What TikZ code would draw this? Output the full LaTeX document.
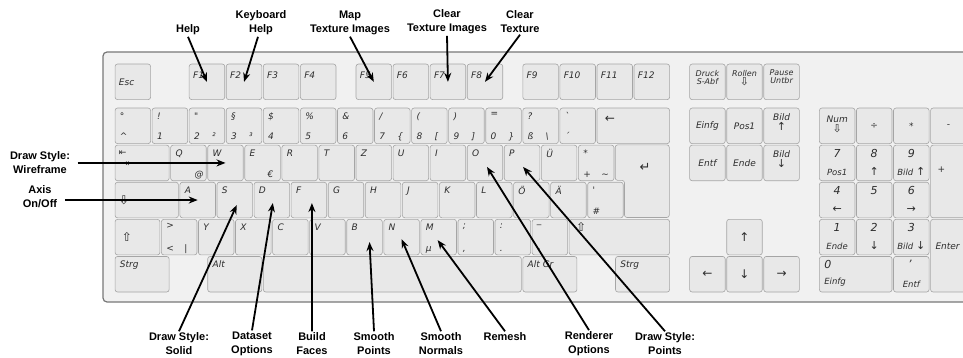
\documentclass[tikz,border=0pt]{standalone}
\usepackage{fontspec}
\usepackage{tikz}
\usetikzlibrary{arrows.meta,calc}
\newfontfamily\keyfont{DejaVu Sans}
\newfontfamily\notefont{Liberation Sans}
\definecolor{clrBody}{RGB}{241,241,241}
\definecolor{clrRim}{RGB}{120,120,120}
\definecolor{clrKey}{RGB}{232,232,232}
\definecolor{clrKeyRim}{RGB}{165,165,165}
\definecolor{clrInk}{RGB}{45,45,45}
\newcommand{\ku}{37.07}
\newcommand{\up}[1]{{\upshape\fontsize{11}{11}\selectfont #1}}
\tikzset{
  body/.style={rounded corners=4pt,fill=clrBody,draw=clrRim,line width=1.2pt},
  keycap/.style={rectangle,rounded corners=2.5pt,draw=clrKeyRim,fill=clrKey,
    line width=0.6pt,inner sep=0pt,anchor=north west},
  keylbl/.style={font=\keyfont\itshape\fontsize{9}{10}\selectfont,text=clrInk,inner sep=0pt},
  ktl/.style={keylbl,anchor=north west,xshift=5pt,yshift=-4.5pt},
  kbl/.style={keylbl,anchor=base west,xshift=5pt,yshift=4pt},
  kbr/.style={keylbl,anchor=base west,xshift=23pt,yshift=4pt},
  kfn/.style={keylbl,anchor=north west,xshift=4pt,yshift=-8pt},
  kctr/.style={keylbl,align=center},
  ksym/.style={keylbl,font=\keyfont\fontsize{12}{12}\selectfont},
  ktab/.style={keylbl,anchor=west,font=\keyfont\fontsize{9}{9}\selectfont},
  kdig/.style={keylbl,anchor=north,font=\keyfont\itshape\fontsize{11}{11}\selectfont},
  ksmall/.style={keylbl,anchor=south,font=\keyfont\itshape\fontsize{8.5}{9}\selectfont},
  note/.style={font=\notefont\bfseries\fontsize{11}{14}\selectfont,align=center,inner sep=1.5pt},
  arrow/.style={-{Stealth[length=9pt,width=7pt]},line width=1.8pt,color=black}
}
\newcommand{\keyat}[5]{%
  \node[keycap,minimum width={#4*\ku-1.5},minimum height={#5*\ku-1.5}]
    (#1) at ({114+#2*\ku+0.75},{#3+0.75}) {};}
\newcommand{\keyone}[4]{\keyat{#1}{#2}{#3}{1}{1}%
  \node[ktl] (#1-t) at (#1.north west) {#4};}
\newcommand{\keytwo}[5]{\keyone{#1}{#2}{#3}{#4}%
  \node[kbl] (#1-b) at (#1.south west) {#5};}
\newcommand{\keythree}[6]{\keytwo{#1}{#2}{#3}{#4}{#5}%
  \node[kbr] (#1-r) at (#1.south west) {#6};}
\newcommand{\fkey}[3]{\keyat{#1}{#2}{63}{1}{1}%
  \node[kfn] (#1-t) at (#1.north west) {#3};}
\newcommand{\midkey}[4]{\keyat{#1}{#2}{#3}{1}{1}%
  \node[kctr] (#1-t) at (#1.center) {#4};}
\newcommand{\padkey}[5]{\keyat{#1}{#2}{#3}{1}{1}%
  \node[kdig] (#1-t) at ([yshift=-4pt]#1.north) {#4};%
  \node[ksmall] (#1-b) at ([yshift=5pt]#1.south) {#5};}

\begin{document}
\begin{tikzpicture}[x=1pt,y=-1pt]
  \useasboundingbox (0,0) rectangle (963,358);
  \fill[white] (0,0) rectangle (963,358);
  \clip (0,0) rectangle (963,358);

  % keyboard case
  \draw[body] (103,52) rectangle (1010,302);

  % function row
  \keyat{kEsc}{0}{63}{1}{1}
  \node[keylbl,anchor=west,xshift=4pt] (kEsc-t) at (kEsc.west) {Esc};
  \fkey{kF1}{2}{F1}
  \fkey{kF2}{3}{F2}
  \fkey{kF3}{4}{F3}
  \fkey{kF4}{5}{F4}
  \fkey{kF5}{6.5}{F5}
  \fkey{kF6}{7.5}{F6}
  \fkey{kF7}{8.5}{F7}
  \fkey{kF8}{9.5}{F8}
  \fkey{kF9}{11}{F9}
  \fkey{kF10}{12}{F10}
  \fkey{kF11}{13}{F11}
  \fkey{kF12}{14}{F12}

  \keyat{kPrint}{15.5}{63}{1}{1}
  \node[kctr,anchor=north,font=\keyfont\itshape\fontsize{8}{8}\selectfont]
    (kPrint-t) at ([yshift=-6pt]kPrint.north) {Druck\\S-Abf};
  \keyat{kScroll}{16.5}{63}{1}{1}
  \node[kctr,anchor=north,font=\keyfont\itshape\fontsize{8}{9}\selectfont]
    (kScroll-t) at ([yshift=-6pt]kScroll.north) {Rollen\\\up{⇩}};
  \keyat{kPause}{17.5}{63}{1}{1}
  \node[kctr,anchor=north,font=\keyfont\itshape\fontsize{8}{8}\selectfont]
    (kPause-t) at ([yshift=-6pt]kPause.north) {Pause\\Untbr};

  % number row
  \keytwo{kCirc}{0}{107}{°}{\textasciicircum}
  \keytwo{kOne}{1}{107}{!}{1}
  \keythree{kTwo}{2}{107}{"}{2}{²}
  \keythree{kThree}{3}{107}{§}{3}{³}
  \keytwo{kFour}{4}{107}{\$}{4}
  \keytwo{kFive}{5}{107}{\%}{5}
  \keytwo{kSix}{6}{107}{\&}{6}
  \keythree{kSeven}{7}{107}{/}{7}{\{}
  \keythree{kEight}{8}{107}{(}{8}{[}
  \keythree{kNine}{9}{107}{)}{9}{]}
  \keythree{kZero}{10}{107}{=}{0}{\}}
  \keythree{kSz}{11}{107}{?}{ß}{\textbackslash}
  \keytwo{kAcc}{12}{107}{\symbol{96}}{\symbol{180}}
  \keyat{kBack}{13}{107}{2}{1}
  \node[ksym,anchor=west] (kBack-t) at ([xshift=8pt,yshift=-12pt]kBack.north west) {←};

  % upper letter row
  \keyat{kTab}{0}{144.1}{1.5}{1}
  \node[ktab] (kTab-t) at ([xshift=4pt,yshift=-8pt]kTab.north west) {⇤};
  \node[ktab] (kTab-b) at ([xshift=7pt,yshift=-19pt]kTab.north west) {⇥};
  \keyone{kQ}{1.5}{144.1}{Q}
  \node[kbr,xshift=1pt] (kQ-r) at (kQ.south west) {@};
  \keyone{kW}{2.5}{144.1}{W}
  \keyone{kE}{3.5}{144.1}{E}
  \node[kbr] (kE-r) at (kE.south west) {€};
  \keyone{kR}{4.5}{144.1}{R}
  \keyone{kT}{5.5}{144.1}{T}
  \keyone{kZ}{6.5}{144.1}{Z}
  \keyone{kU}{7.5}{144.1}{U}
  \keyone{kI}{8.5}{144.1}{I}
  \keyone{kO}{9.5}{144.1}{O}
  \keyone{kP}{10.5}{144.1}{P}
  \keyone{kUe}{11.5}{144.1}{Ü}
  \keythree{kPlus}{12.5}{144.1}{*}{+}{\textasciitilde}
  \draw[rounded corners=2.5pt,draw=clrKeyRim,fill=clrKey,line width=0.6pt]
    (615.2,144.85) -- (669.3,144.85) -- (669.3,217.5) -- (624.5,217.5)
    -- (624.5,180.4) -- (615.2,180.4) -- cycle;
  \node[ksym,font=\keyfont\fontsize{13}{13}\selectfont] (kRet-t) at (645,167) {↵};

  % home row
  \keyat{kCaps}{0}{181.2}{1.75}{1}
  \node[ksym,anchor=west] (kCaps-t) at ([xshift=4pt]kCaps.west) {⇩};
  \keyone{kA}{1.75}{181.2}{A}
  \keyone{kS}{2.75}{181.2}{S}
  \keyone{kD}{3.75}{181.2}{D}
  \keyone{kF}{4.75}{181.2}{F}
  \keyone{kG}{5.75}{181.2}{G}
  \keyone{kH}{6.75}{181.2}{H}
  \keyone{kJ}{7.75}{181.2}{J}
  \keyone{kK}{8.75}{181.2}{K}
  \keyone{kL}{9.75}{181.2}{L}
  \keyone{kOe}{10.75}{181.2}{Ö}
  \keyone{kAe}{11.75}{181.2}{Ä}
  \keytwo{kHash}{12.75}{181.2}{\symbol{39}}{\#}

  % lower letter row
  \keyat{kLShift}{0}{218.3}{1.25}{1}
  \node[ksym,anchor=west] (kLShift-t) at ([xshift=7pt]kLShift.west) {⇧};
  \keythree{kLess}{1.25}{218.3}{>}{<}{|}
  \keyone{kY}{2.25}{218.3}{Y}
  \keyone{kX}{3.25}{218.3}{X}
  \keyone{kC}{4.25}{218.3}{C}
  \keyone{kV}{5.25}{218.3}{V}
  \keyone{kB}{6.25}{218.3}{B}
  \keyone{kN}{7.25}{218.3}{N}
  \keytwo{kM}{8.25}{218.3}{M}{µ}
  \keytwo{kSemi}{9.25}{218.3}{;}{,}
  \keytwo{kColon}{10.25}{218.3}{:}{.}
  \keytwo{kUnder}{11.25}{218.3}{\_}{-}
  \keyat{kRShift}{12.25}{218.3}{2.75}{1}
  \node[ksym,anchor=north west] (kRShift-t) at ([xshift=7pt,yshift=-3pt]kRShift.north west) {⇧};

  % bottom row
  \keyat{kLCtrl}{0}{255.4}{1.5}{1}
  \node[ktl] (kLCtrl-t) at (kLCtrl.north west) {Strg};
  \keyat{kAlt}{2.5}{255.4}{1.5}{1}
  \node[ktl] (kAlt-t) at (kAlt.north west) {Alt};
  \keyat{kSpace}{4}{255.4}{7}{1}
  \keyat{kAltGr}{11}{255.4}{1.5}{1}
  \node[ktl] (kAltGr-t) at (kAltGr.north west) {Alt Gr};
  \keyat{kRCtrl}{13.5}{255.4}{1.5}{1}
  \node[ktl] (kRCtrl-t) at (kRCtrl.north west) {Strg};

  % navigation block
  \midkey{kIns}{15.5}{107}{Einfg}
  \midkey{kHome}{16.5}{107}{Pos1}
  \keyat{kPgUp}{17.5}{107}{1}{1}
  \node[kctr,anchor=north] (kPgUp-t) at ([yshift=-6pt]kPgUp.north) {Bild\\\up{↑}};
  \midkey{kDel}{15.5}{144.1}{Entf}
  \midkey{kEnd}{16.5}{144.1}{Ende}
  \keyat{kPgDn}{17.5}{144.1}{1}{1}
  \node[kctr,anchor=north] (kPgDn-t) at ([yshift=-6pt]kPgDn.north) {Bild\\\up{↓}};
  \keyat{kUp}{16.5}{218.3}{1}{1}
  \node[ksym] (kUp-t) at (kUp.center) {↑};
  \keyat{kLeft}{15.5}{255.4}{1}{1}
  \node[ksym] (kLeft-t) at (kLeft.center) {←};
  \keyat{kDown}{16.5}{255.4}{1}{1}
  \node[ksym] (kDown-t) at (kDown.center) {↓};
  \keyat{kRight}{17.5}{255.4}{1}{1}
  \node[ksym] (kRight-t) at (kRight.center) {→};

  % numeric pad
  \keyat{kNum}{19}{107}{1}{1}
  \node[kctr,anchor=north] (kNum-t) at ([yshift=-8pt]kNum.north) {Num\\\up{⇩}};
  \midkey{kDiv}{20}{107}{÷}
  \midkey{kMul}{21}{107}{*}
  \midkey{kSub}{22}{107}{-}
  \padkey{kPad7}{19}{144.1}{7}{Pos1}
  \padkey{kPad8}{20}{144.1}{8}{\up{↑}}
  \padkey{kPad9}{21}{144.1}{9}{Bild \up{↑}}
  \keyat{kPadAdd}{22}{144.1}{1}{2}
  \node[kctr,anchor=west] (kPadAdd-t) at ([xshift=7pt,yshift=-25pt]kPadAdd.north west) {+};
  \padkey{kPad4}{19}{181.2}{4}{\up{←}}
  \keyat{kPad5}{20}{181.2}{1}{1}
  \node[kdig] (kPad5-t) at ([yshift=-4pt]kPad5.north) {5};
  \padkey{kPad6}{21}{181.2}{6}{\up{→}}
  \padkey{kPad1}{19}{218.3}{1}{Ende}
  \padkey{kPad2}{20}{218.3}{2}{\up{↓}}
  \padkey{kPad3}{21}{218.3}{3}{Bild \up{↓}}
  \keyat{kPadEnter}{22}{218.3}{1}{2}
  \node[kctr,anchor=west] (kPadEnter-t) at ([xshift=5pt,yshift=-27pt]kPadEnter.north west) {Enter};
  \keyat{kPad0}{19}{255.4}{2}{1}
  \node[kdig,anchor=north west] (kPad0-t) at ([xshift=5pt,yshift=-4pt]kPad0.north west) {0};
  \node[ksmall,anchor=south west] (kPad0-b) at ([xshift=5pt,yshift=6pt]kPad0.south west) {Einfg};
  \padkey{kPadDec}{21}{255.4}{,}{Entf}

  % callouts
  \node[note] (help) at (188,30) {Help};
  \node[note] (kbhelp) at (261,23) {Keyboard\\Help};
  \node[note] (maptex) at (350,23) {Map\\Texture Images};
  \node[note] (clrteximg) at (447,22) {Clear\\Texture Images};
  \node[note] (clrtex) at (520,22) {Clear\\Texture};
  \node[note] (wire) at (40,163) {Draw Style:\\Wireframe};
  \node[note] (axis) at (40,197) {Axis\\On/Off};
  \node[note] (solid) at (179,344) {Draw Style:\\Solid};
  \node[note] (dataset) at (252,344) {Dataset\\Options};
  \node[note] (build) at (312,344) {Build\\Faces};
  \node[note] (spoints) at (374,344) {Smooth\\Points};
  \node[note] (snormals) at (441,344) {Smooth\\Normals};
  \node[note] (remesh) at (505,337) {Remesh};
  \node[note] (renderer) at (589,344) {Renderer\\Options};
  \node[note] (dpoints) at (665,344) {Draw Style:\\Points};

  \draw[arrow] (help.south) -- (kF1.center);
  \draw[arrow] ([xshift=-3pt]kbhelp.south) -- (kF2.center);
  \draw[arrow] (maptex.south) -- (kF5.center);
  \draw[arrow] (clrteximg.south) -- (kF7.center);
  \draw[arrow] (clrtex.south) -- (kF8.center);
  \draw[arrow] ([xshift=6pt]kW.center -| wire.east) -- (kW.center);
  \draw[arrow] ([xshift=6pt]kA.center -| axis.east) -- (kA.center);
  \draw[arrow] (solid.north) -- ($(kS.center)+(2,5)$);
  \draw[arrow] (dataset.north) -- ($(kD.center)+(1,3)$);
  \draw[arrow] (build.north) -- ($(kF.center)+(3,3)$);
  \draw[arrow] (spoints.north) -- ($(kB.center)+(5,5)$);
  \draw[arrow] (snormals.north) -- ($(kN.center)+(0,2)$);
  \draw[arrow] (remesh.north) -- ($(kM.center)+(-1,3)$);
  \draw[arrow] (renderer.north) -- ($(kO.center)+(2,4)$);
  \draw[arrow] (dpoints.north) -- ($(kP.center)+(1,4)$);
\end{tikzpicture}
\end{document}
